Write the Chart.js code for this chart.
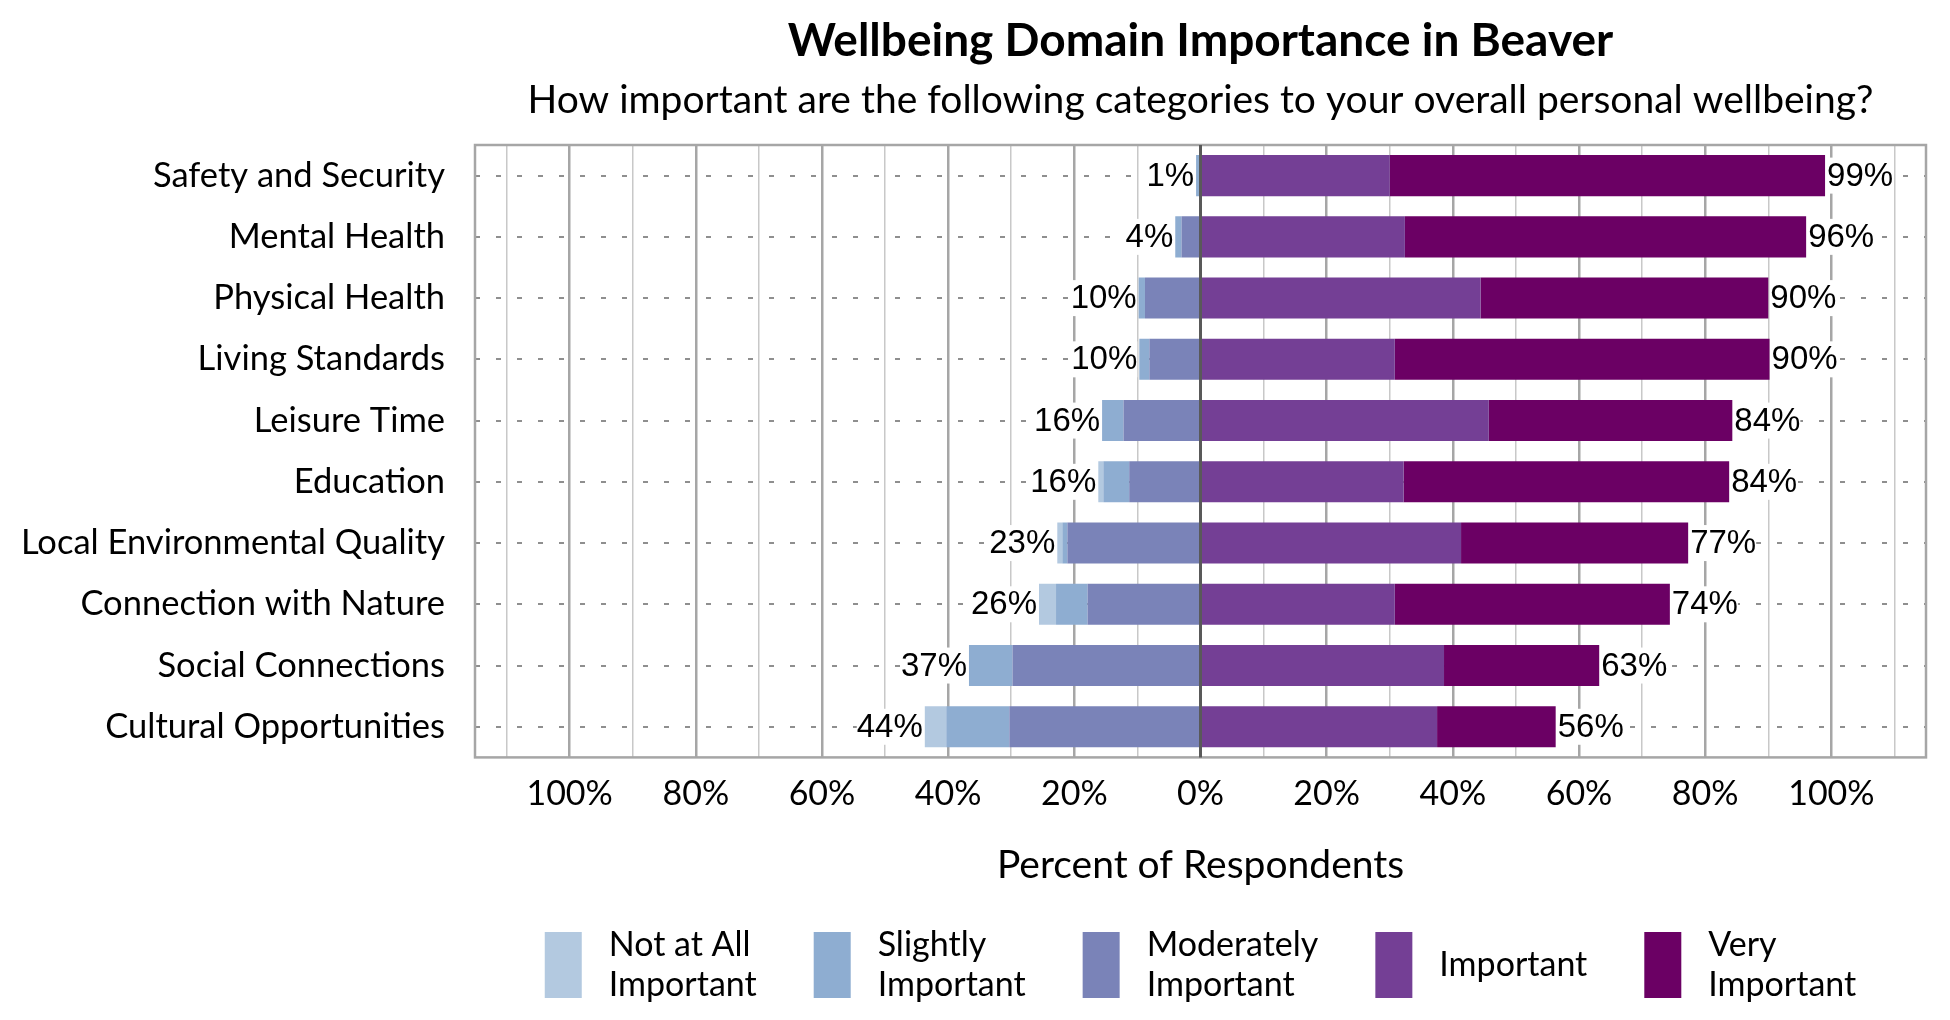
<!DOCTYPE html>
<html lang="en">
<head>
    <meta charset="UTF-8">
    <title>Wellbeing Domain Importance in Beaver</title>
    <script src="https://cdn.jsdelivr.net/npm/chart.js@4.4.0/dist/chart.umd.min.js"></script>
    <style>
      body { margin: 0; background: #fff; }
      #wrap { width: 1950px; height: 1020px; }
    </style>
</head>
<body>
    <div id="wrap">
      <canvas id="chartWB" width="1950" height="1020"></canvas>
    </div>
    <script>
      // categories, top to bottom
      const categories = [
        'Safety and Security',
        'Mental Health',
        'Physical Health',
        'Living Standards',
        'Leisure Time',
        'Education',
        'Local Environmental Quality',
        'Connection with Nature',
        'Social Connections',
        'Cultural Opportunities'
      ];

      // percent of respondents per answer
      const notAtAll      = [0,    0,    0,    0,    0,    0.8,  0.8,  2.7,  0,    3.4];
      const slightly      = [0.7,  1.0,  1.0,  1.6,  3.4,  4.1,  0.8,  5.0,  6.9,  10.0];
      const moderately    = [0,    3.0,  8.8,  8.1,  12.2, 11.3, 21.1, 17.9, 29.8, 30.3];
      const important     = [30.0, 32.4, 44.4, 30.8, 45.7, 32.2, 41.3, 30.8, 38.6, 37.5];
      const veryImportant = [69.0, 63.6, 45.6, 59.4, 38.6, 51.6, 36.0, 43.6, 24.6, 18.8];

      const legendLabels = [['Not at All', 'Important'], ['Slightly', 'Important'], ['Moderately', 'Important'], ['Important'], ['Very', 'Important']];
      const legendColors = ['#b3c9e0', '#8eadd1', '#7a83b8', '#743f95', '#6b0064'];

      // grid lines every 10, labels every 20
      const xGrid = [-110, -100, -90, -80, -70, -60, -50, -40, -30, -20, -10, 0, 10, 20, 30, 40, 50, 60, 70, 80, 90, 100, 110];
      const xTicks = [-100, -80, -60, -40, -20, 0, 20, 40, 60, 80, 100];

      const FONT = 'Lato';
      const LABEL_FONT = '"Liberation Sans", Arial, sans-serif';

      // totals next to the bars
      const totalLabels = {
        id: 'totalLabels',
        afterDatasetsDraw(chart) {
          const { ctx, scales: { x, y } } = chart;
          ctx.save();
          ctx.font = '33px ' + LABEL_FONT;
          ctx.textBaseline = 'middle';
          categories.forEach((c, i) => {
            const neg = notAtAll[i] + slightly[i] + moderately[i];
            const pos = important[i] + veryImportant[i];
            const yy = y.getPixelForValue(i);
            const nt = Math.round(neg) + '%';
            const pt = Math.round(pos) + '%';
            const nx = x.getPixelForValue(-neg) - 2;
            const px = x.getPixelForValue(pos) + 2;
            const nw = ctx.measureText(nt).width;
            const pw = ctx.measureText(pt).width;
            ctx.fillStyle = '#fff';
            ctx.fillRect(nx - nw, yy - 18, nw, 36);
            ctx.fillRect(px, yy - 18, pw, 36);
            ctx.fillStyle = '#000';
            ctx.textAlign = 'right';
            ctx.fillText(nt, nx, yy + 1);
            ctx.textAlign = 'left';
            ctx.fillText(pt, px, yy + 1);
          });
          ctx.restore();
        }
      };

      // plot frame and zero line
      const frame = {
        id: 'frame',
        afterDatasetsDraw(chart) {
          const { ctx, chartArea: a, scales: { x } } = chart;
          ctx.save();
          ctx.strokeStyle = '#a6a6a6';
          ctx.lineWidth = 2.5;
          ctx.strokeRect(a.left, a.top, a.right - a.left, a.bottom - a.top);
          const zx = x.getPixelForValue(0);
          ctx.strokeStyle = '#595959';
          ctx.lineWidth = 3;
          ctx.beginPath();
          ctx.moveTo(zx, a.top);
          ctx.lineTo(zx, a.bottom);
          ctx.stroke();
          ctx.restore();
        }
      };

      // legend with two line labels
      const bottomLegend = {
        id: 'bottomLegend',
        afterDraw(chart) {
          const { ctx, chartArea: a } = chart;
          const boxW = 37, boxH = 66, gap = 27, space = 57, lineH = 40;
          const top = chart.height - 88;
          ctx.save();
          ctx.font = '34px ' + FONT;
          const widths = legendLabels.map(lines => Math.max(...lines.map(l => ctx.measureText(l).width)));
          const total = widths.reduce((s, w) => s + boxW + gap + w, 0) + space * (widths.length - 1);
          let xx = (a.left + a.right) / 2 - total / 2;
          const mid = top + boxH / 2;
          ctx.textBaseline = 'middle';
          ctx.textAlign = 'left';
          legendLabels.forEach((lines, i) => {
            ctx.fillStyle = legendColors[i];
            ctx.fillRect(xx, top, boxW, boxH);
            ctx.fillStyle = '#000';
            lines.forEach((l, k) => {
              const ty = mid + (k - (lines.length - 1) / 2) * lineH;
              ctx.fillText(l, xx + boxW + gap, ty);
            });
            xx += boxW + gap + widths[i] + space;
          });
          ctx.restore();
        }
      };

      const ctx = document.getElementById('chartWB').getContext('2d');
      const chartWB = new Chart(ctx, {
        type: 'bar',
        data: {
          labels: categories,
          datasets: [
            { label: 'Moderately Important', data: moderately.map(v => -v), backgroundColor: legendColors[2] },
            { label: 'Slightly Important', data: slightly.map(v => -v), backgroundColor: legendColors[1] },
            { label: 'Not at All Important', data: notAtAll.map(v => -v), backgroundColor: legendColors[0] },
            { label: 'Important', data: important, backgroundColor: legendColors[3] },
            { label: 'Very Important', data: veryImportant, backgroundColor: legendColors[4] }
          ]
        },
        options: {
          indexAxis: 'y',
          responsive: false,
          animation: false,
          devicePixelRatio: 1,
          datasets: {
            bar: { barPercentage: 0.67, categoryPercentage: 1, borderWidth: 0 }
          },
          layout: {
            padding: { left: 20, right: 24, top: 0, bottom: 127 }
          },
          plugins: {
            legend: { display: false },
            tooltip: { enabled: false },
            title: {
              display: true,
              text: 'Wellbeing Domain Importance in Beaver',
              fullSize: false,
              color: '#000',
              font: { family: FONT, size: 46, weight: 'bold' },
              padding: { top: 14, bottom: 0 }
            },
            subtitle: {
              display: true,
              text: 'How important are the following categories to your overall personal wellbeing?',
              fullSize: false,
              color: '#000',
              font: { family: FONT, size: 39 },
              padding: { top: 8, bottom: 21 }
            }
          },
          scales: {
            x: {
              stacked: true,
              min: -115,
              max: 115,
              afterBuildTicks: function(scale) {
                scale.ticks = xGrid.map(v => ({ value: v }));
              },
              ticks: {
                autoSkip: false,
                maxRotation: 0,
                padding: 16,
                color: '#000',
                font: { family: FONT, size: 34 },
                callback: function(value) {
                  return xTicks.includes(value) ? Math.abs(value) + '%' : '';
                }
              },
              grid: {
                drawTicks: false,
                color: function(c) {
                  const v = c.tick ? c.tick.value : 1;
                  if (v === 0) return '#595959';
                  return v % 20 === 0 ? '#a6a6a6' : '#c8c8c8';
                },
                lineWidth: function(c) {
                  const v = c.tick ? c.tick.value : 1;
                  return v % 20 === 0 ? 2.5 : 1.5;
                }
              },
              border: { display: false },
              title: {
                display: true,
                text: 'Percent of Respondents',
                color: '#000',
                font: { family: FONT, size: 39 },
                padding: { top: 12, bottom: 4 }
              }
            },
            y: {
              stacked: true,
              afterFit: function(scale) {
                scale.width = 455;
              },
              ticks: {
                padding: 30,
                color: '#000',
                font: { family: FONT, size: 34.5 }
              },
              grid: {
                offset: false,
                drawTicks: false,
                color: '#8f8f8f',
                lineWidth: 2
              },
              border: { display: false, dash: [5, 16] }
            }
          }
        },
        plugins: [frame, totalLabels, bottomLegend]
      });
    </script>
</body>
</html>
